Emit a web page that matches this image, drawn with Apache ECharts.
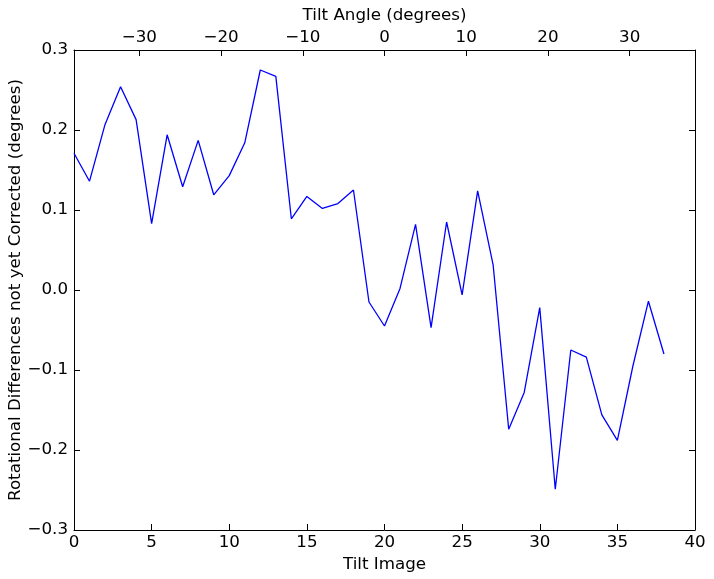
<!DOCTYPE html>
<html>
<head>
<meta charset="utf-8">
<script src="https://cdn.jsdelivr.net/npm/echarts@6/dist/echarts.min.js"></script>
<style>html,body{margin:0;padding:0;background:#fff;}#c{width:714px;height:579px;}</style>
</head>
<body>
<div id="c"></div>
<script>
const tiltImages = [0,1,2,3,4,5,6,7,8,9,10,11,12,13,14,15,16,17,18,19,20,21,22,23,24,25,26,27,28,29,30,31,32,33,34,35,36,37,38];
const rotDiff = [0.171,0.136,0.207,0.254,0.213,0.083,0.194,0.129,0.187,0.119,0.143,0.184,0.275,0.267,0.089,0.117,0.102,0.108,0.125,-0.015,-0.045,0.002,0.082,-0.047,0.085,-0.006,0.124,0.031,-0.174,-0.128,-0.022,-0.249,-0.075,-0.084,-0.156,-0.188,-0.095,-0.014,-0.080];
const angleTicks = [-30,-20,-10,0,10,20,30];
const xLabel = 'Tilt Image';
const topLabel = 'Tilt Angle (degrees)';
const yLabel = 'Rotational Differences not yet Corrected (degrees)';

const font = 'DejaVu Sans';
const fs = 16.7;
const minus = s => String(s).replace('-', '\u2212');
const axisLine = {show:true, onZero:false, lineStyle:{color:'#000', width:1}};
const tick = {show:true, inside:true, length:6, lineStyle:{color:'#000'}};
const lbl = {color:'#000', fontFamily:font, fontSize:fs};
const nts = {color:'#000', fontFamily:font, fontSize:fs};

const chart = echarts.init(document.getElementById('c'), null, {renderer:'canvas'});
chart.setOption({
  animation:false,
  backgroundColor:'#fff',
  grid:{left:74, right:19, top:50, bottom:49, containLabel:false, outerBoundsMode:'none'},
  xAxis:[
    {type:'value', position:'bottom', min:0, max:40, interval:5,
     axisLine, axisTick:tick, splitLine:{show:false},
     axisLabel:Object.assign({margin:4}, lbl),
     name:xLabel, nameLocation:'middle', nameGap:25, nameTextStyle:nts},
    {type:'value', position:'top', min:-38, max:38,
     axisLine, splitLine:{show:false},
     axisTick:Object.assign({customValues:angleTicks}, tick),
     axisLabel:Object.assign({customValues:angleTicks, margin:4, formatter:v=>minus(v)}, lbl),
     name:topLabel, nameLocation:'middle', nameGap:25, nameTextStyle:nts},
  ],
  yAxis:[
    {type:'value', position:'left', min:-0.3, max:0.3, interval:0.1,
     axisLine, axisTick:tick, splitLine:{show:false},
     axisLabel:Object.assign({margin:6, formatter:v=>minus(v.toFixed(1))}, lbl),
     name:yLabel, nameLocation:'middle', nameGap:50, nameMoveOverlap:false, nameTextStyle:nts},
    {type:'value', position:'right', min:-0.3, max:0.3, interval:0.1,
     axisLine, axisTick:tick, splitLine:{show:false}, axisLabel:{show:false}}
  ],
  series:[{
    type:'line', xAxisIndex:0, yAxisIndex:0,
    data:tiltImages.map((x,i)=>[x, rotDiff[i]]),
    showSymbol:false, symbol:'none',
    lineStyle:{color:'#0000ff', width:1.3}
  }]
});
</script>
</body>
</html>
